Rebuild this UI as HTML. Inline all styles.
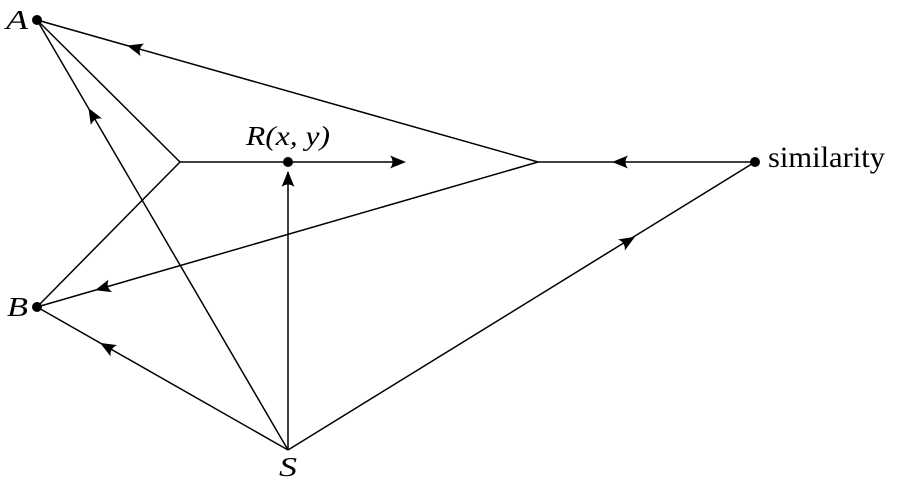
<!DOCTYPE html>
<html><head><meta charset="utf-8"><style>
html,body{margin:0;padding:0;background:#fff;}
svg{display:block;}
text{font-family:"Liberation Serif","Times New Roman",serif;fill:#000;}
</style></head><body>
<svg width="898" height="486" viewBox="0 0 898 486" xmlns="http://www.w3.org/2000/svg">
<defs>
<path id="ah" d="M0,0 L-16,-6.5 Q-11,0 -16,6.5 Z" fill="#000"/>
</defs>
<g stroke="#000" stroke-width="1.5" fill="none">
<line x1="37" y1="20" x2="180" y2="162"/>
<line x1="37" y1="307" x2="180" y2="162"/>
<line x1="180" y1="162" x2="403" y2="162"/>
<line x1="37" y1="20" x2="538" y2="162"/>
<line x1="37" y1="307" x2="538" y2="162"/>
<line x1="538" y1="162" x2="755" y2="162"/>
<line x1="288" y1="450" x2="37" y2="20"/>
<line x1="288" y1="450" x2="37" y2="307"/>
<line x1="288" y1="450" x2="288" y2="172"/>
<line x1="288" y1="450" x2="755" y2="162"/>
</g>
<use href="#ah" transform="translate(127,45.5) rotate(195.8)"/>
<use href="#ah" transform="translate(88.4,108) rotate(239.7)"/>
<use href="#ah" transform="translate(95,290.3) rotate(163.9)"/>
<use href="#ah" transform="translate(100,342.9) rotate(209.7)"/>
<use href="#ah" transform="translate(288,171) rotate(-90)"/>
<use href="#ah" transform="translate(406,162) rotate(0)"/>
<use href="#ah" transform="translate(612,162) rotate(180)"/>
<use href="#ah" transform="translate(635,236.7) rotate(-31.6)"/>
<circle cx="37" cy="20" r="5" fill="#000"/>
<circle cx="37" cy="307" r="5" fill="#000"/>
<circle cx="288" cy="162" r="5" fill="#000"/>
<circle cx="755" cy="162" r="5" fill="#000"/>
<text x="6" y="29" font-size="27" font-style="italic" textLength="22" lengthAdjust="spacingAndGlyphs">A</text>
<text x="7" y="316" font-size="27" font-style="italic" textLength="21" lengthAdjust="spacingAndGlyphs">B</text>
<text x="246" y="145" font-size="27" font-style="italic" textLength="84" lengthAdjust="spacingAndGlyphs">R(x, y)</text>
<text x="279" y="476" font-size="27" font-style="italic" textLength="18" lengthAdjust="spacingAndGlyphs">S</text>
<text x="768" y="167" font-size="30" textLength="117" lengthAdjust="spacingAndGlyphs">similarity</text>
</svg>
</body></html>
